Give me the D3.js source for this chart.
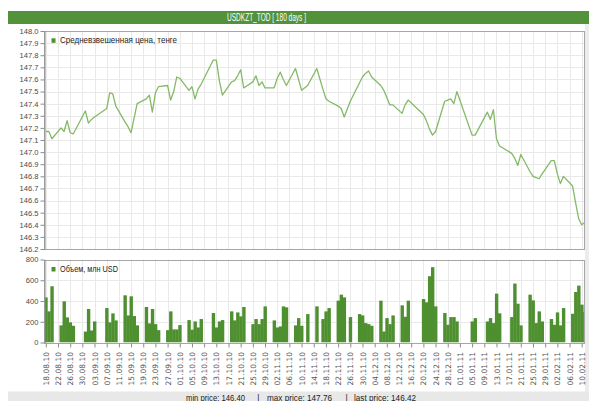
<!DOCTYPE html>
<html><head><meta charset="utf-8">
<script src="https://cdn.jsdelivr.net/npm/d3@7"></script>
<style>
body{margin:0;background:#fff;}
svg{display:block;}
</style></head><body>
<svg id="chart" width="589" height="401"></svg>
<script>
const title = "USDKZT_TOD [ 180 days ]";
const priceLegend = "Средневзвешенная цена, тенге";
const volumeLegend = "Объем, млн USD";
const footer = ["min price: 146.40", "max price: 147.76", "last price: 146.42"];

const dates = [
"18.08.10","19.08.10","20.08.10",
"23.08.10","24.08.10","25.08.10","26.08.10","27.08.10",
"31.08.10","01.09.10","02.09.10","03.09.10",
"07.09.10","08.09.10","09.09.10","10.09.10",
"13.09.10","14.09.10","15.09.10","16.09.10","17.09.10",
"20.09.10","21.09.10","22.09.10","23.09.10","24.09.10",
"27.09.10","28.09.10","29.09.10","30.09.10","01.10.10",
"04.10.10","05.10.10","06.10.10","07.10.10","08.10.10",
"12.10.10","13.10.10","14.10.10","15.10.10",
"18.10.10","19.10.10","20.10.10","21.10.10","22.10.10",
"25.10.10","26.10.10","27.10.10","28.10.10","29.10.10",
"01.11.10","02.11.10","03.11.10","04.11.10","05.11.10",
"08.11.10","09.11.10","10.11.10","12.11.10",
"15.11.10","17.11.10","18.11.10","19.11.10",
"22.11.10","23.11.10","24.11.10","26.11.10",
"29.11.10","30.11.10","01.12.10","02.12.10","03.12.10",
"06.12.10","07.12.10","08.12.10","09.12.10","10.12.10",
"13.12.10","14.12.10","15.12.10",
"20.12.10","21.12.10","22.12.10","23.12.10","24.12.10",
"27.12.10","28.12.10","29.12.10","30.12.10","31.12.10",
"05.01.11","06.01.11",
"10.01.11","11.01.11","12.01.11","13.01.11","14.01.11",
"18.01.11","19.01.11","20.01.11","21.01.11",
"24.01.11","25.01.11","26.01.11","27.01.11","28.01.11",
"31.01.11","01.02.11","02.02.11","03.02.11","04.02.11",
"07.02.11","08.02.11","09.02.11","10.02.11","11.02.11"
];

const prices = [
147.17,147.17,147.11,
147.20,147.17,147.26,147.16,147.15,
147.34,147.24,147.27,147.29,
147.36,147.49,147.48,147.38,
147.25,147.21,147.16,147.28,147.40,
147.44,147.47,147.33,147.49,147.54,
147.55,147.43,147.50,147.62,147.61,
147.51,147.54,147.44,147.52,147.56,
147.76,147.76,147.59,147.47,
147.58,147.59,147.63,147.68,147.53,
147.58,147.63,147.55,147.58,147.53,
147.53,147.61,147.66,147.60,147.55,
147.69,147.60,147.51,147.55,
147.69,147.52,147.44,147.42,
147.38,147.36,147.29,147.42,
147.57,147.62,147.65,147.67,147.62,
147.55,147.51,147.45,147.39,147.39,
147.32,147.39,147.43,
147.31,147.26,147.19,147.14,147.17,
147.42,147.43,147.44,147.40,147.50,
147.14,147.14,
147.33,147.27,147.35,147.11,147.05,
146.99,146.95,146.89,146.98,
146.84,146.80,146.79,146.78,146.82,
146.93,146.93,146.82,146.74,146.80,
146.72,146.58,146.45,146.40,146.42
];

const volumes = [
435,300,542,
165,397,242,194,161,
105,323,116,203,
332,194,281,213,
455,261,445,255,165,
342,184,323,177,119,
119,300,126,126,168,
216,123,203,145,226,
284,145,203,216,
300,213,290,252,342,
177,226,177,226,348,
213,145,155,348,339,
165,235,161,274,
348,226,300,332,
403,461,435,245,
274,261,187,177,161,
403,106,235,177,261,
358,248,403,
419,387,639,726,348,
284,171,245,245,203,
203,235,
203,235,187,471,281,
245,568,374,165,
461,406,187,300,203,
226,171,290,165,332,
277,487,548,365,294
];

const priceTicks = [146.2,146.3,146.4,146.5,146.6,146.7,146.8,146.9,147.0,147.1,147.2,147.3,147.4,147.5,147.6,147.7,147.8,147.9,148.0];
const volumeTicks = [0,200,400,600,800];
const dateTickFirst = "18.08.10", dateTickLast = "10.02.11", dateTickStepDays = 4;

const parse = d3.utcParse("%d.%m.%y");
const fmt = d3.utcFormat("%d.%m.%y");
const data = dates.map((d,i)=>({date: parse(d), price: prices[i], volume: volumes[i]}));
const DAY = 864e5;
const t0 = parse(dateTickFirst);
const tickDates = d3.utcDay.range(t0, new Date(+parse(dateTickLast)+DAY), dateTickStepDays);

const L = 44, R = 584;
const TP = {y0: 31, y1: 249};
const BP = {y0: 259.5, y1: 342.5};

const x = d3.scaleUtc().domain([new Date(+t0 - 0.59*DAY), new Date(+t0 + 176.75*DAY)]).range([L, R]);
const yP = d3.scaleLinear().domain([146.2, 148.0]).range([TP.y1, TP.y0]);
const yV = d3.scaleLinear().domain([0, 800]).range([BP.y1, BP.y0]);

const svg = d3.select("#chart");
const sans = "'Liberation Sans', Arial, sans-serif";
const narrow = "'Liberation Sans Narrow', 'Liberation Sans', Arial, sans-serif";

svg.append("rect").attr("x",0).attr("y",0).attr("width",589).attr("height",401).attr("fill","#fff");
svg.append("rect").attr("x",585).attr("y",24).attr("width",4).attr("height",368).attr("fill","#ececec");

// title bar
svg.append("rect").attr("x",8).attr("y",11).attr("width",581).attr("height",13).attr("fill","#52923a");
svg.append("text").attr("x",266.5).attr("y",21.4).attr("text-anchor","middle")
  .attr("fill","#fff").style("font-family",narrow).style("font-size","10px")
  .attr("textLength",79).attr("lengthAdjust","spacingAndGlyphs").text(title);

// clip paths
const defs = svg.append("defs");
defs.append("clipPath").attr("id","clipP").append("rect").attr("x",L+0.5).attr("y",TP.y0).attr("width",R-L-0.5).attr("height",TP.y1-TP.y0);
defs.append("clipPath").attr("id","clipV").append("rect").attr("x",L+1).attr("y",BP.y0).attr("width",R-L-1).attr("height",BP.y1-BP.y0);

const gridColor = "#e9e9e9";
function panel(y0, y1, yScale, ticks){
  const g = svg.append("g");
  g.append("rect").attr("x",L+0.5).attr("y",y0).attr("width",R-L).attr("height",y1-y0).attr("fill","#fff");
  g.selectAll("line.v").data(tickDates).join("line").attr("class","v")
    .attr("x1",d=>Math.round(x(d))+0.5).attr("x2",d=>Math.round(x(d))+0.5)
    .attr("y1",y0).attr("y2",y1).attr("stroke",gridColor).attr("stroke-width",1);
  g.selectAll("line.h").data(ticks).join("line").attr("class","h")
    .attr("x1",L).attr("x2",R).attr("y1",d=>Math.round(yScale(d))+0.5).attr("y2",d=>Math.round(yScale(d))+0.5)
    .attr("stroke",gridColor).attr("stroke-width",1);
}
panel(TP.y0, TP.y1, yP, priceTicks);
panel(BP.y0, BP.y1, yV, volumeTicks);

// price line
const line = d3.line().x(d=>x(d.date)).y(d=>yP(d.price));
svg.append("path").datum(data).attr("clip-path","url(#clipP)")
  .attr("d", line).attr("fill","none").attr("stroke","#84b966").attr("stroke-width",1.3).attr("stroke-linejoin","round");

// volume bars
const bw = x(new Date(+t0 + DAY)) - x(t0);
svg.append("g").attr("clip-path","url(#clipV)").selectAll("rect").data(data).join("rect")
  .attr("x", d=>x(d.date)-bw/2).attr("width", bw+0.35)
  .attr("y", d=>yV(d.volume)).attr("height", d=>yV(0)-yV(d.volume))
  .attr("fill","#4e8f2f");

// panel borders
[[TP.y0,TP.y1],[BP.y0,BP.y1]].forEach(([a,b])=>{
  svg.append("rect").attr("x",L+0.5).attr("y",Math.round(a)+0.5).attr("width",R-L).attr("height",Math.round(b)-Math.round(a))
    .attr("fill","none").attr("stroke","#a6a6a6");
});

// axes
function styleAxis(g, fs, family){
  g.select(".domain").attr("stroke","#8c8c8c");
  g.selectAll(".tick line").attr("stroke","#8c8c8c");
  g.selectAll(".tick text").attr("fill","#4a4a4a").style("font-size",fs).style("font-family",family);
}
const axP = svg.append("g").attr("transform",`translate(${L+0.5},0)`)
  .call(d3.axisLeft(yP).tickValues(priceTicks).tickFormat(d3.format(".1f")).tickSize(4).tickSizeOuter(0).tickPadding(2));
styleAxis(axP, "7.6px", narrow);
const axV = svg.append("g").attr("transform",`translate(${L+0.5},0)`)
  .call(d3.axisLeft(yV).tickValues(volumeTicks).tickFormat(d3.format("d")).tickSize(4).tickSizeOuter(0).tickPadding(2));
styleAxis(axV, "7.6px", narrow);
const axX = svg.append("g").attr("transform",`translate(0,${Math.round(BP.y1)+0.5})`)
  .call(d3.axisBottom(x).tickValues(tickDates).tickFormat(fmt).tickSize(4).tickSizeOuter(0));
styleAxis(axX, "7.5px", "'DejaVu Sans', Verdana, sans-serif");
axX.select(".domain").remove();
axX.selectAll(".tick text").attr("transform","rotate(-90)").attr("text-anchor","end")
  .attr("x",-8.5).attr("y",0).attr("dy","0.34em").attr("fill","#555");

// legends
svg.append("rect").attr("x",51.5).attr("y",38.3).attr("width",4).attr("height",4.5).attr("fill","#4e8f2f");
svg.append("text").attr("x",60).attr("y",43.4).attr("fill","#222").style("font-family",sans).style("font-size","8.4px")
  .attr("textLength",117).attr("lengthAdjust","spacingAndGlyphs").text(priceLegend);
svg.append("rect").attr("x",51.5).attr("y",267).attr("width",4).attr("height",4.5).attr("fill","#4e8f2f");
svg.append("text").attr("x",60).attr("y",272.2).attr("fill","#222").style("font-family",sans).style("font-size","8.4px")
  .attr("textLength",58).attr("lengthAdjust","spacingAndGlyphs").text(volumeLegend);

// footer
svg.append("rect").attr("x",8).attr("y",391.5).attr("width",581).attr("height",10).attr("fill","#e8e8e8");
const ft = svg.append("g").attr("fill","#222").style("font-family",sans).style("font-size","8.4px");
const fy = 400.5;
ft.append("text").attr("x",186).attr("y",fy).attr("textLength",59).attr("lengthAdjust","spacingAndGlyphs").text(footer[0]);
ft.append("text").attr("x",258.3).attr("y",fy).attr("text-anchor","middle").text("|");
ft.append("text").attr("x",267).attr("y",fy).attr("textLength",65).attr("lengthAdjust","spacingAndGlyphs").text(footer[1]);
ft.append("text").attr("x",346.7).attr("y",fy).attr("text-anchor","middle").text("|");
ft.append("text").attr("x",354).attr("y",fy).attr("textLength",62).attr("lengthAdjust","spacingAndGlyphs").text(footer[2]);
</script>
</body></html>
